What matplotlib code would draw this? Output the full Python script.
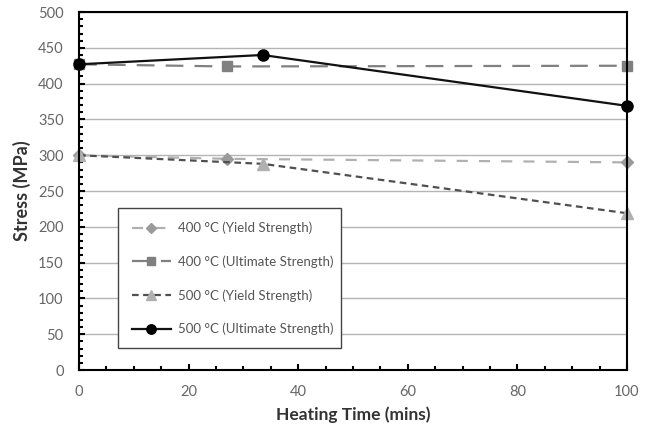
import matplotlib.pyplot as plt
from matplotlib.ticker import MultipleLocator

# data
t400 = [0, 27, 100]
t500 = [0, 33.5, 100]
yield400 = [300, 295, 290]
ult400 = [427, 424, 425]
yield500 = [300, 288, 219]
ult500 = [427, 440, 369]

labels = ['400 °C (Yield Strength)', '400 °C (Ultimate Strength)',
          '500 °C (Yield Strength)', '500 °C (Ultimate Strength)']

plt.rcParams['font.family'] = ['Lato', 'DejaVu Sans']

fig = plt.figure(figsize=(6.5, 4.3), dpi=100)
ax = fig.add_axes([0.1215, 0.1395, 0.843, 0.8325])

# horizontal gridlines
ax.yaxis.grid(True, color='#b4b4b4', lw=1)
ax.set_axisbelow(True)

ax.plot(t400, yield400, ls=(0, (5, 5)), color='#b0b0b0', lw=1.6,
        marker='D', ms=6, mfc='#9a9a9a', mec='#9a9a9a', clip_on=False, label=labels[0])
ax.plot(t400, ult400, ls=(0, (8, 5)), color='#808080', lw=1.6,
        marker='s', ms=7, mfc='#808080', mec='#808080', clip_on=False, label=labels[1])
ax.plot(t500, yield500, ls=(0, (3, 2)), color='#505050', lw=1.6,
        marker='^', ms=8, mfc='#b0b0b0', mec='#b0b0b0', clip_on=False, label=labels[2])
ax.plot(t500, ult500, ls='-', color='#111111', lw=1.6,
        marker='o', ms=8, mfc='black', mec='black', clip_on=False, label=labels[3])

ax.set_xlim(0, 100)
ax.set_ylim(0, 500)
ax.xaxis.set_major_locator(MultipleLocator(20))
ax.xaxis.set_minor_locator(MultipleLocator(5))
ax.yaxis.set_major_locator(MultipleLocator(50))
ax.yaxis.set_minor_locator(MultipleLocator(10))
ax.tick_params(which='both', direction='in', colors='black', labelcolor='#666666',
               labelsize=10.5)
ax.tick_params(which='major', length=4, width=1.5)
ax.tick_params(which='minor', length=3, width=1.5)
ax.tick_params(axis='x', pad=11)
ax.tick_params(axis='y', pad=11)
for s in ax.spines.values():
    s.set_linewidth(1.5)
    s.set_color('black')

ax.set_xlabel('Heating Time (mins)', fontsize=12.5, fontweight='bold', color='#333333',
              labelpad=5)
ax.set_ylabel('Stress (MPa)', fontsize=13, fontweight='bold', color='#333333', labelpad=5)

leg = ax.legend(loc='lower left', bbox_to_anchor=(0.06, 0.042, 0.43, 0.413), mode='expand',
                numpoints=1, fontsize=9.5, labelspacing=1.6, handlelength=3.0,
                handletextpad=0.5, markerscale=0.85,
                borderpad=1.0, fancybox=False, framealpha=1, edgecolor='#444444',
                labelcolor='#555555')
leg.get_frame().set_linewidth(1.0)

plt.savefig('out.png', dpi=100)
